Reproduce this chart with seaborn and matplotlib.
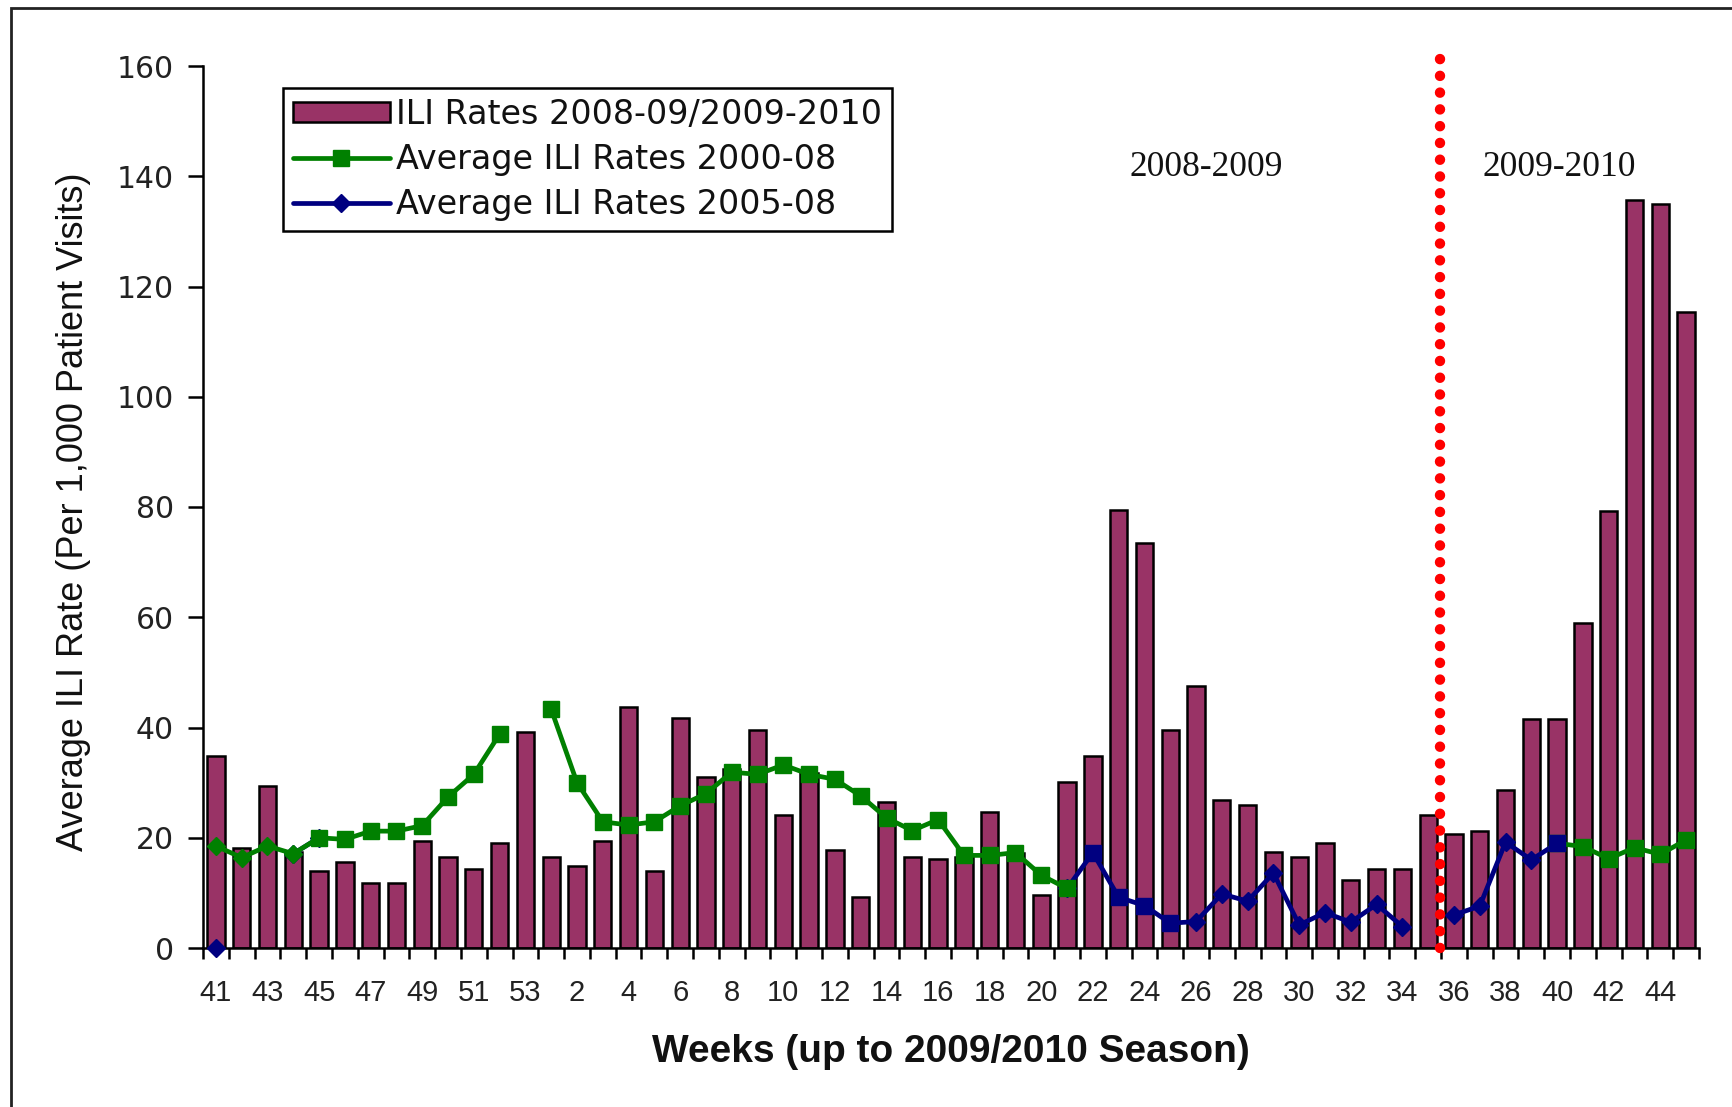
import numpy as np
import pandas as pd
import matplotlib
matplotlib.use("Agg")
import matplotlib.pyplot as plt
import seaborn as sns
from matplotlib.lines import Line2D
from matplotlib.patches import Patch, Rectangle

# ---------------- data ----------------
week_labels = [str(w) for w in range(41, 54)] + [str(w) for w in range(1, 46)]
season = ["2008"] * 13 + ["2009"] * 45

ili_rates = [
    34.8, 18.2, 29.3, 17.5, 13.9, 15.6, 11.8, 11.8, 19.5, 16.5, 14.4, 19.1, 39.1,
    16.5, 14.8, 19.5, 43.8, 13.9, 41.7, 31.0, 32.5, 39.5, 24.2, 31.7, 17.8, 9.3,
    26.4, 16.5, 16.2, 16.5, 24.7, 17.2, 9.7, 30.2, 34.9, 79.4, 73.4, 39.5, 47.6,
    26.8, 25.9, 17.4, 16.5, 19.1, 12.3, 14.4, 14.4, 24.2, 20.6, 21.3, 28.7, 41.5,
    41.5, 59.0, 79.3, 135.7, 134.9, 115.3,
]

nan = np.nan
avg_2000_08 = (
    [18.5, 16.4, 18.5, 17.1, 20.0, 19.7, 21.2, 21.2, 22.2, 27.4, 31.5, 38.8, nan]
    + [43.3, 30.0, 22.9, 22.3, 22.9, 25.8, 28.0, 31.9, 31.5, 33.2, 31.5, 30.6, 27.6,
       23.6, 21.3, 23.3, 16.8, 16.8, 17.3, 13.2, 10.8]
    + [nan] * 18
    + [19.0, 18.4, 16.2, 18.2, 17.0, 19.6]
)
avg_2005_08 = (
    [0.0, nan, nan, 17.1, 20.0] + [nan] * 8
    + [nan] * 20
    + [10.8, 17.3, 9.2, 7.7, 4.5, 4.8, 9.8, 8.5, 13.6, 4.2, 6.4, 4.7, 7.9, 3.9]
    + [nan]
    + [6.0, 7.6, 19.2, 16.0, 19.0]
    + [nan] * 5
)

keys = [f"{s}-{w}" for s, w in zip(season, week_labels)]
df = pd.DataFrame({"key": keys, "week": week_labels, "rate": ili_rates,
                   "avg0008": avg_2000_08, "avg0508": avg_2005_08})
df["pos"] = np.arange(len(df))

# ---------------- style ----------------
sns.set_style("white")
plt.rcParams["font.family"] = ["Liberation Sans", "DejaVu Sans"]

BAR = "#993366"
GREEN = "#008000"
NAVY = "#000080"

fig = plt.figure(figsize=(17.33, 11.07), dpi=100)
ax = fig.add_axes([203 / 1733, 1 - 948 / 1107, 1496 / 1733, 882 / 1107])

sns.barplot(data=df, x="key", y="rate", order=keys, color=BAR, saturation=1,
            edgecolor="black", linewidth=1.8, width=0.67, ax=ax, zorder=2)

x = df["pos"].values
LW = 3.4
MS_S = 12
MS_D = 9.5
# blue line + markers (underneath)
ax.plot(x, df["avg0508"], color=NAVY, lw=LW, zorder=3, solid_capstyle="round")
blue_sq = [34, 35, 36, 37]
blue_d = [i for i in range(len(df)) if i not in blue_sq + [52]]
ax.plot(x[blue_d], df["avg0508"].values[blue_d], ls="none", marker="D", ms=MS_D,
        color=NAVY, zorder=3.5, clip_on=False)
ax.plot(x[blue_sq], df["avg0508"].values[blue_sq], ls="none", marker="s",
        ms=MS_S, color=NAVY, zorder=3.5)

# green line + markers
ax.plot(x, df["avg0008"], color=GREEN, lw=LW, zorder=4, solid_capstyle="round")
green_d = [0, 1, 2, 3]
green_s = [i for i in range(len(df)) if i not in green_d]
ax.plot(x[green_d], df["avg0008"].values[green_d], ls="none", marker="D", ms=MS_D,
        color=GREEN, zorder=4.5)
ax.plot(x[green_s], df["avg0008"].values[green_s], ls="none", marker="s", ms=MS_S,
        color=GREEN, zorder=4.5)
# blue square on top at week 40 (2009)
ax.plot(x[[52]], df["avg0508"].values[[52]], ls="none", marker="s", ms=MS_S,
        color=NAVY, zorder=6)

# season divider (red dotted)
div_x = keys.index("2009-35") + 0.44
ax.plot([div_x, div_x], [0, 1.022], transform=ax.get_xaxis_transform(),
        color="#FF0000", lw=7.5, dashes=(0.01, 1.6), dash_capstyle="round",
        clip_on=False, zorder=7)

ax.text(38.4, 141.5, "2008-2009", ha="center", va="center", fontsize=25.5,
        family=["Liberation Serif", "DejaVu Serif"], color="#111111")
ax.text(52.1, 141.5, "2009-2010", ha="center", va="center", fontsize=25.5,
        family=["Liberation Serif", "DejaVu Serif"], color="#111111")

# axes
ax.set_xlim(-0.5, len(df) - 0.5)
ax.set_ylim(0, 160)
ax.set_yticks(np.arange(0, 161, 20))
ax.set_yticklabels([str(v) for v in range(0, 161, 20)],
                   fontsize=21.5, family=["DejaVu Sans"], color="#222222")
ax.set_xticks(x[::2])
ax.set_xticklabels(df["week"].values[::2], fontsize=21, color="#222222")
ax.set_xticks(np.arange(-0.5, len(df), 1.0), minor=True)
ax.tick_params(axis="x", which="major", length=0, pad=22)
ax.tick_params(axis="x", which="minor", length=8, width=1.8, color="black",
               direction="out", bottom=True)
ax.tick_params(axis="y", which="major", length=11, width=1.8, color="black",
               direction="out", left=True, pad=10)

for s in ["top", "right"]:
    ax.spines[s].set_visible(False)
for s in ["left", "bottom"]:
    ax.spines[s].set_color("black")
    ax.spines[s].set_linewidth(1.8)
ax.grid(False)

ax.set_xlabel("Weeks (up to 2009/2010 Season)", fontsize=28, fontweight="bold",
              color="#111111")
ax.xaxis.set_label_coords(0.5, -0.097)
ax.set_ylabel("Average ILI Rate (Per 1,000 Patient Visits)", fontsize=26,
              color="#111111")
ax.yaxis.set_label_coords(-0.075, 0.495)

handles = [
    Patch(facecolor=BAR, edgecolor="black", linewidth=1.8),
    Line2D([0], [0], color=GREEN, lw=LW, marker="s", ms=MS_S),
    Line2D([0], [0], color=NAVY, lw=LW, marker="D", ms=MS_D),
]
labels = ["ILI Rates 2008-09/2009-2010", "Average ILI Rates 2000-08",
          "Average ILI Rates 2005-08"]
leg = ax.legend(handles, labels, loc="upper left", bbox_to_anchor=(0.0535, 0.975),
                borderaxespad=0, frameon=True, fancybox=False, framealpha=1,
                edgecolor="black", prop={"family": "DejaVu Sans", "size": 24},
                handlelength=2.9, handleheight=0.55, handletextpad=0.2,
                labelspacing=0.36, borderpad=0.3)
leg.get_frame().set_linewidth(1.8)
for t in leg.get_texts():
    t.set_color("#111111")

# outer frame of the figure
fig.patches.append(Rectangle((11 / 1733, -0.05), 1.2, 1 - 8 / 1107 + 0.05,
                             transform=fig.transFigure, fill=False,
                             edgecolor="#222222", linewidth=2))

fig.savefig("out.png", dpi=100)
